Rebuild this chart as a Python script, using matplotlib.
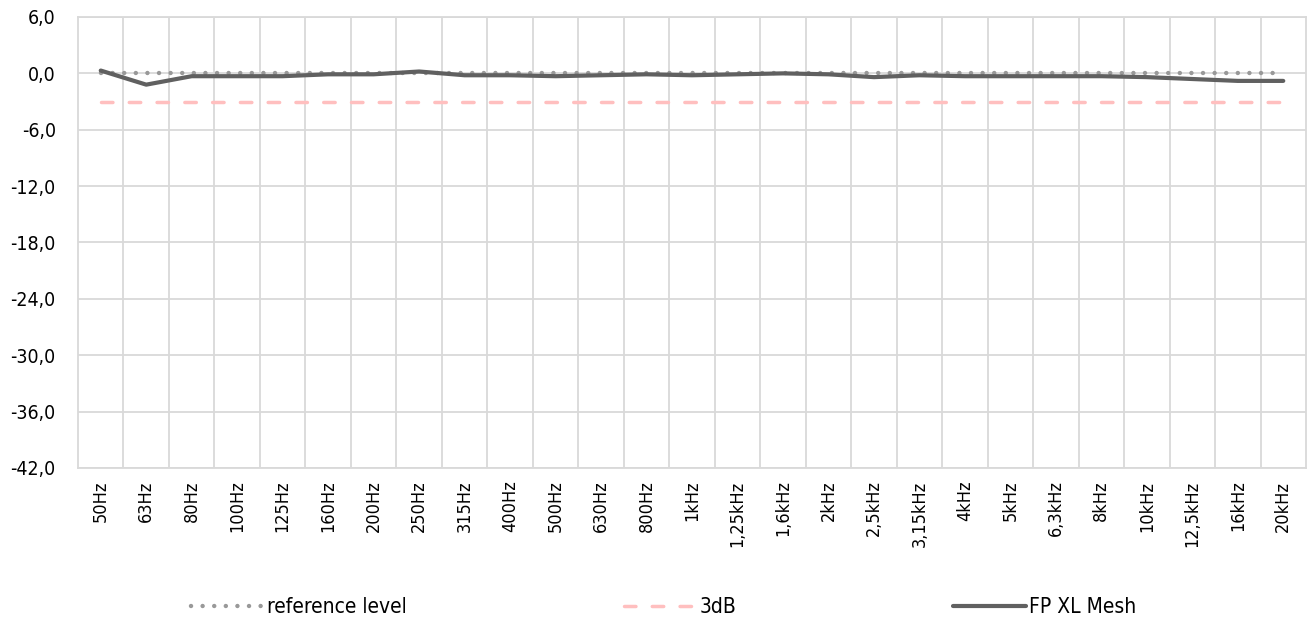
import matplotlib
matplotlib.use("Agg")
import matplotlib.pyplot as plt

# schmale Schrift wie im Original (DejaVu Sans Condensed)
plt.rcParams["font.family"] = ["DejaVu Sans"]
plt.rcParams["font.stretch"] = "condensed"

# Daten
freqs = ["50Hz", "63Hz", "80Hz", "100Hz", "125Hz", "160Hz", "200Hz", "250Hz", "315Hz",
         "400Hz", "500Hz", "630Hz", "800Hz", "1kHz", "1,25kHz", "1,6kHz", "2kHz",
         "2,5kHz", "3,15kHz", "4kHz", "5kHz", "6,3kHz", "8kHz", "10kHz", "12,5kHz",
         "16kHz", "20kHz"]
reference_level = [0.0] * len(freqs)
minus_3db = [-3.0] * len(freqs)
fp_xl_mesh = [0.3, -1.2, -0.3, -0.3, -0.3, -0.1, -0.1, 0.2, -0.2, -0.2, -0.3, -0.2,
              -0.1, -0.2, -0.1, 0.0, -0.1, -0.4, -0.2, -0.3, -0.3, -0.3, -0.3, -0.4,
              -0.6, -0.8, -0.8]
y_ticks = [6, 0, -6, -12, -18, -24, -30, -36, -42]

fig = plt.figure(figsize=(13.12, 6.25), dpi=100)
ax = fig.add_axes([78 / 1312, 1 - 468 / 625, (1306 - 78) / 1312, (468 - 17) / 625])

x = list(range(len(freqs)))
ax.plot(x, reference_level, color="#999999", linestyle=(0, (0.01, 2.6)), linewidth=3.2,
        dash_capstyle="round", label="reference level", zorder=3)
ax.plot(x, minus_3db, color="#ffbfbf", linestyle=(0, (3.3, 4.7)), linewidth=2.5,
        dash_capstyle="round", label="3dB", zorder=3)
ax.plot(x, fp_xl_mesh, color="#606060", linewidth=3.0, solid_capstyle="round",
        label="FP XL Mesh", zorder=4)

ax.set_xlim(-0.5, len(freqs) - 0.5)
ax.set_ylim(-42, 6)
ax.set_yticks(y_ticks)
ax.set_yticklabels([f"{v:.1f}".replace(".", ",") for v in y_ticks], fontsize=14)
ax.set_xticks(x)
ax.set_xticklabels(freqs, rotation=90, fontsize=13)
ax.set_xticks([i + 0.5 for i in range(len(freqs) - 1)], minor=True)

ax.tick_params(axis="both", which="both", length=0)
ax.tick_params(axis="x", pad=9)
ax.tick_params(axis="y", pad=16)
ax.grid(True, axis="y", color="#d9d9d9", linewidth=1.3)
ax.grid(True, axis="x", which="minor", color="#d9d9d9", linewidth=1.3)
for s in ax.spines.values():
    s.set_color("#d9d9d9")
    s.set_linewidth(1.3)

fig.legend(loc="center", bbox_to_anchor=(0.506, 1 - 607 / 625), ncol=3, frameon=False,
           fontsize=15, columnspacing=10.4, handlelength=3.5, handletextpad=0.15)

plt.savefig("out.png", dpi=100)
